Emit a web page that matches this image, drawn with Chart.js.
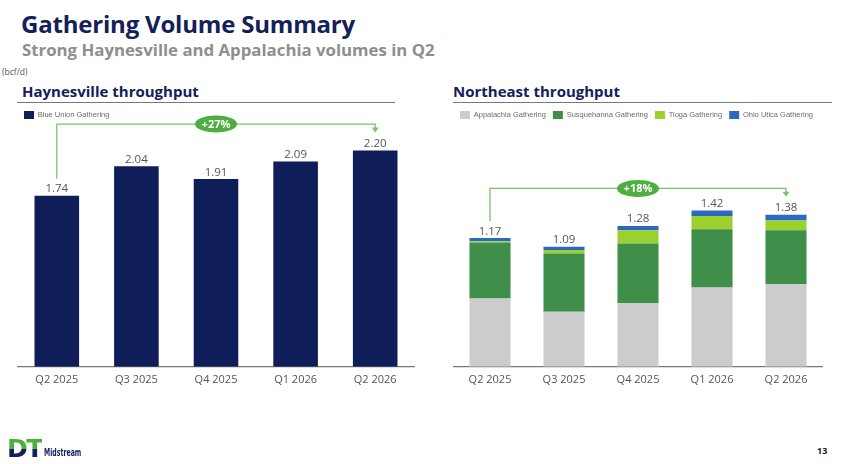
<!DOCTYPE html>
<html>
<head>
<meta charset="utf-8">
<script src="https://cdn.jsdelivr.net/npm/chart.js@4/dist/chart.umd.min.js"></script>
<style>
  body { margin: 0; width: 843px; height: 464px; background: #fff; position: relative; overflow: hidden; font-family: "Open Sans", sans-serif; }
  .title { position: absolute; left: 21px; top: 7px; font-size: 24px; font-weight: 700; color: #14205a; letter-spacing: -0.2px; }
  .subtitle { position: absolute; left: 22px; top: 38px; font-size: 16.8px; font-weight: 700; color: #8e8e8e; }
  .unit { position: absolute; left: 2px; top: 66px; font-size: 8.5px; color: #555; }
  .section { position: absolute; top: 81px; font-size: 15px; font-weight: 700; color: #14205a; }
  .rule { position: absolute; top: 102px; height: 1px; background: #777; }
  .box { position: absolute; }
  .page { position: absolute; left: 817px; top: 444px; font-size: 9px; font-weight: 700; color: #222; }
  .logo { position: absolute; left: 7px; top: 436px; font-size: 25px; font-weight: 900; line-height: 26px; font-family: "DejaVu Sans", sans-serif; letter-spacing: -1.5px;
          background: linear-gradient(#4caf3f 0 50%, #14205a 50% 100%); -webkit-background-clip: text; background-clip: text; color: transparent; }
  .logo2 { position: absolute; left: 44px; top: 447px; font-size: 10px; font-weight: 700; color: #14205a; font-family: "DejaVu Sans", sans-serif;
           transform: scaleX(0.62); transform-origin: left top; }
</style>
</head>
<body>
<div class="title">Gathering Volume Summary</div>
<div class="subtitle">Strong Haynesville and Appalachia volumes in Q2</div>
<div class="unit">(bcf/d)</div>
<div class="section" style="left:22px">Haynesville throughput</div>
<div class="section" style="left:453px">Northeast throughput</div>
<div class="rule" style="left:17px;width:378px"></div>
<div class="rule" style="left:453px;width:379px"></div>
<div class="box" style="left:17px;top:104px;width:398px;height:288px"><canvas id="hvChart"></canvas></div>
<div class="box" style="left:453px;top:104px;width:370px;height:288px"><canvas id="neChart"></canvas></div>
<div class="logo">DT</div>
<div class="logo2">Midstream</div>
<div class="page">13</div>
<script>
const quarters = ["Q2 2025", "Q3 2025", "Q4 2025", "Q1 2026", "Q2 2026"];
const blueUnion = [1.74, 2.04, 1.91, 2.09, 2.2];
const appalachia = [0.62, 0.5, 0.58, 0.72, 0.75];
const susquehanna = [0.51, 0.53, 0.54, 0.53, 0.49];
const tioga = [0.01, 0.03, 0.12, 0.12, 0.09];
const ohioUtica = [0.03, 0.03, 0.04, 0.05, 0.05];
const neTotals = [1.17, 1.09, 1.28, 1.42, 1.38];
const hvGrowth = "+27%";
const neGrowth = "+18%";

const COLORS = {
  navy: "#0f1d58",
  appalachia: "#cccccc",
  susquehanna: "#3f8f4a",
  tioga: "#9ad12f",
  ohio: "#2f68c4",
  pill: "#4caf3f",
  bracket: "#7cc46a",
  label: "#555555",
};

// totals above bars + growth bracket
const topLabels = {
  id: "topLabels",
  afterDatasetsDraw(chart, args, opts) {
    const { ctx } = chart;
    const x = chart.scales.x;
    const y = chart.scales.y;
    ctx.save();
    ctx.font = "11.5px 'Open Sans', sans-serif";
    ctx.fillStyle = COLORS.label;
    ctx.textAlign = "center";
    ctx.textBaseline = "bottom";
    opts.totals.forEach((v, i) => {
      ctx.fillText(v.toFixed(2), x.getPixelForValue(i), y.getPixelForValue(v) - 1);
    });

    const n = opts.totals.length - 1;
    const x0 = x.getPixelForValue(0);
    const x1 = x.getPixelForValue(n);
    const yb = y.getPixelForValue(opts.level);
    const yStart = y.getPixelForValue(opts.totals[0]) - 17;
    const yEnd = y.getPixelForValue(opts.totals[n]) - 18;
    ctx.strokeStyle = COLORS.bracket;
    ctx.lineWidth = 1.3;
    ctx.beginPath();
    ctx.moveTo(x0, yStart);
    ctx.lineTo(x0, yb);
    ctx.lineTo(x1, yb);
    ctx.lineTo(x1, yEnd - 4);
    ctx.stroke();
    ctx.fillStyle = COLORS.bracket;
    ctx.beginPath();
    ctx.moveTo(x1 - 3.5, yEnd - 5);
    ctx.lineTo(x1 + 3.5, yEnd - 5);
    ctx.lineTo(x1, yEnd);
    ctx.closePath();
    ctx.fill();

    const px = x.getPixelForValue(2);
    ctx.fillStyle = COLORS.pill;
    ctx.beginPath();
    ctx.ellipse(px, yb, 21, 8.5, 0, 0, Math.PI * 2);
    ctx.fill();
    ctx.fillStyle = "#fff";
    ctx.font = "bold 11px 'Open Sans', sans-serif";
    ctx.textBaseline = "middle";
    ctx.fillText(opts.text, px, yb + 0.5);
    ctx.restore();
  },
};

function baseOptions(yMax) {
  return {
    responsive: true,
    maintainAspectRatio: false,
    animation: false,
    layout: { padding: 0 },
    plugins: {
      legend: {
        display: true,
        position: "top",
        align: "start",
        labels: {
          boxWidth: 10,
          boxHeight: 8,
          padding: 7,
          color: "#6b6b6b",
          font: { size: 7.5, family: "'Liberation Sans', Arial, sans-serif" },
        },
      },
      tooltip: { enabled: false },
    },
    scales: {
      x: {
        stacked: true,
        grid: { display: false, drawTicks: false },
        border: { display: true, color: "#777", width: 1.3 },
        ticks: {
          padding: 6,
          color: COLORS.label,
          font: { size: 11, family: "'Open Sans', sans-serif" },
        },
      },
      y: {
        stacked: true,
        display: false,
        min: 0,
        max: yMax,
      },
    },
  };
}

function initCharts() {
  const hvOpts = baseOptions(2.42);
  hvOpts.plugins.topLabels = { totals: blueUnion, level: 2.47, text: hvGrowth };
  new Chart(document.getElementById("hvChart"), {
    type: "bar",
    data: {
      labels: quarters,
      datasets: [
        {
          label: "Blue Union Gathering",
          data: blueUnion,
          backgroundColor: COLORS.navy,
          barPercentage: 0.56,
          categoryPercentage: 1,
        },
      ],
    },
    options: hvOpts,
    plugins: [topLabels],
  });

  const neOpts = baseOptions(2.16);
  neOpts.plugins.topLabels = { totals: neTotals, level: 1.62, text: neGrowth };
  const bar = { barPercentage: 0.555, categoryPercentage: 1 };
  new Chart(document.getElementById("neChart"), {
    type: "bar",
    data: {
      labels: quarters,
      datasets: [
        { label: "Appalachia Gathering", data: appalachia, backgroundColor: COLORS.appalachia, ...bar },
        { label: "Susquehanna Gathering", data: susquehanna, backgroundColor: COLORS.susquehanna, ...bar },
        { label: "Tioga Gathering", data: tioga, backgroundColor: COLORS.tioga, ...bar },
        { label: "Ohio Utica Gathering", data: ohioUtica, backgroundColor: COLORS.ohio, ...bar },
      ],
    },
    options: neOpts,
    plugins: [topLabels],
  });
}

document.addEventListener("DOMContentLoaded", initCharts);
</script>
</body>
</html>
